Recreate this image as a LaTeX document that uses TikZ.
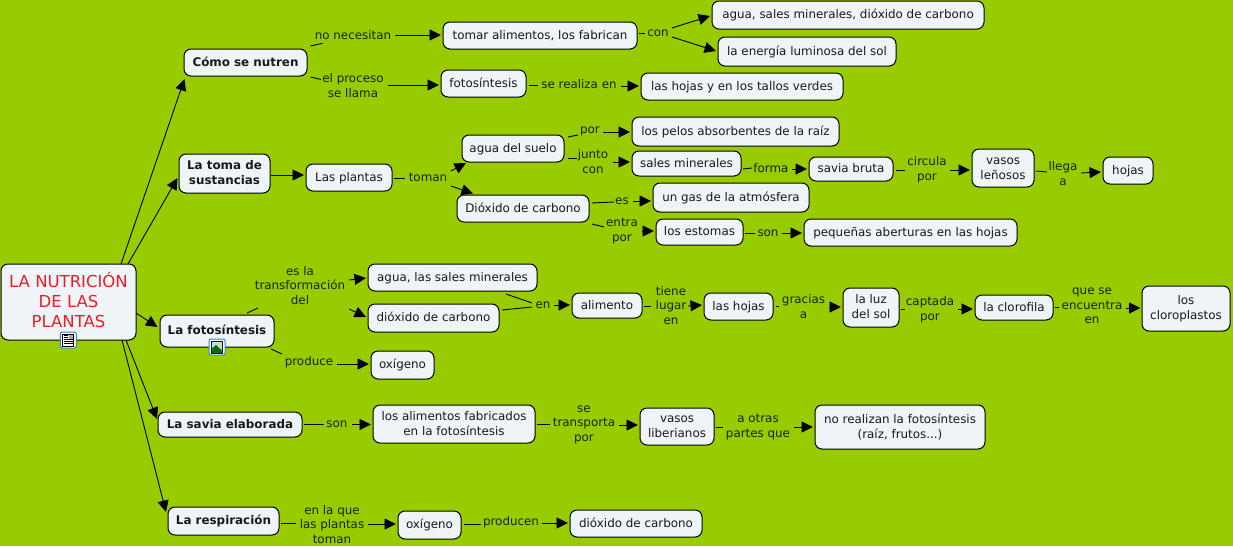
\documentclass[tikz,border=0pt]{standalone}
\usepackage{fontspec}
\setmainfont{DejaVu Sans}
\usetikzlibrary{arrows.meta}
\definecolor{bgc}{HTML}{99CC00}
\definecolor{boxc}{HTML}{EEF4F7}
\definecolor{labc}{HTML}{132600}
\definecolor{redc}{HTML}{EE1C25}
\definecolor{iconb}{HTML}{3C80D0}
\tikzset{
  concept/.style={draw=black,fill=boxc,line width=1pt,rounded corners=7pt,inner sep=0pt,text=black!90,
    font=\fontsize{11.9}{14.7}\selectfont},
  strong/.style={font=\fontsize{11.9}{14.7}\selectfont\bfseries},
  rootc/.style={text=redc,font=\fontsize{16.5}{19.6}\selectfont},
  linkword/.style={inner sep=0pt,text=labc,font=\fontsize{11.9}{14.7}\selectfont},
  stub/.style={draw=black,line width=0.9pt},
  arr/.style={draw=black,line width=0.9pt,-{Triangle[length=11.5pt,width=11pt]}}
}
\newcommand\cen[1]{\setbox\strutbox\hbox{\vrule height .7\baselineskip depth .3\baselineskip width 0pt}%
  \raisebox{-0.8pt}[\height][\depth]{\begin{tabular}{@{}c@{}}#1\end{tabular}}}
% box: name, x0, y0, x1, y1, options, text (pixel coordinates)
\newcommand\bx[7]{%
  \pgfmathsetmacro\tmpx{(#2+#4)/2}\pgfmathsetmacro\tmpy{(#3+#5)/2}%
  \expandafter\xdef\csname cx#1\endcsname{\tmpx}\expandafter\xdef\csname cy#1\endcsname{\tmpy}%
  \pgfmathsetmacro\tmpw{#4-#2}\pgfmathsetmacro\tmph{#5-#3}%
  \node[concept,#6,minimum width=\tmpw pt,minimum height=\tmph pt] (#1) at (\tmpx,\tmpy) {\cen{#7}};}
% label: name, cx, cy, text
\newcommand\lb[4]{%
  \expandafter\xdef\csname cx#1\endcsname{#2}\expandafter\xdef\csname cy#1\endcsname{#3}%
  \node[linkword] (#1) at (#2,#3) {\cen{#4}};}
% connector: style, node a, x, y, node b, x, y
\newcommand\lk[7]{%
  \draw[#1] ([shift={({#3-\csname cx#2\endcsname},{#4-\csname cy#2\endcsname})}]#2.center) --
            ([shift={({#6-\csname cx#5\endcsname},{#7-\csname cy#5\endcsname})}]#5.center);}
\begin{document}
\begin{tikzpicture}[x=1pt,y=-1pt]
\useasboundingbox (0,0) rectangle (1233,546);
\fill[bgc] (0,0) rectangle (1233,546);

\bx{root}{1}{264}{136}{340}{rootc}{LA NUTRICIÓN\\DE LAS\\PLANTAS}
\bx{como}{184}{49}{307}{76}{strong}{Cómo se nutren}
\bx{toma}{179}{154}{270}{193}{strong}{La toma de\\sustancias}
\bx{foto}{160}{315}{274}{347}{strong}{La fotosíntesis}
\bx{savia}{158}{412}{302}{437}{strong}{La savia elaborada}
\bx{resp}{168}{507}{279}{535}{strong}{La respiración}
\bx{tomar}{443}{22}{637}{49}{}{tomar alimentos, los fabrican}
\bx{asales}{712}{1}{984}{29}{}{agua, sales minerales, dióxido de carbono}
\bx{energia}{718}{37}{896}{66}{}{la energía luminosa del sol}
\bx{fotodos}{441}{70}{526}{97}{}{fotosíntesis}
\bx{htallos}{641}{73}{843}{100}{}{las hojas y en los tallos verdes}
\bx{plantas}{306}{164}{392}{191}{}{Las plantas}
\bx{asuelo}{462}{135}{564}{162}{}{agua del suelo}
\bx{diox}{457}{195}{589}{222}{}{Dióxido de carbono}
\bx{pelos}{632}{117}{839}{146}{}{los pelos absorbentes de la raíz}
\bx{sales}{632}{151}{741}{176}{}{sales minerales}
\bx{gas}{653}{183}{809}{212}{}{un gas de la atmósfera}
\bx{estomas}{656}{219}{743}{245}{}{los estomas}
\bx{peq}{804}{219}{1017}{246}{}{pequeñas aberturas en las hojas}
\bx{bruta}{809}{157}{893}{181}{}{savia bruta}
\bx{lenosos}{972}{149}{1034}{187}{}{vasos\\leñosos}
\bx{hojas}{1103}{157}{1153}{184}{}{hojas}
\bx{alsales}{368}{264}{537}{291}{}{agua, las sales minerales}
\bx{dioxdos}{368}{304}{499}{332}{}{dióxido de carbono}
\bx{oxi}{371}{351}{434}{379}{}{oxígeno}
\bx{alim}{572}{293}{642}{318}{}{alimento}
\bx{lashojas}{704}{293}{773}{320}{}{las hojas}
\bx{luz}{843}{288}{899}{327}{}{la luz\\del sol}
\bx{cloro}{975}{295}{1053}{320}{}{la clorofila}
\bx{plastos}{1142}{286}{1230}{331}{}{los\\cloroplastos}
\bx{fabric}{373}{405}{535}{443}{}{los alimentos fabricados\\en la fotosíntesis}
\bx{liber}{640}{408}{714}{445}{}{vasos\\liberianos}
\bx{norea}{815}{405}{985}{449}{}{no realizan la fotosíntesis\\(raíz, frutos...)}
\bx{oxidos}{398}{511}{461}{539}{}{oxígeno}
\bx{dioxtres}{570}{510}{702}{537}{}{dióxido de carbono}

\lb{lnec}{353}{35.5}{no necesitan}
\lb{lproc}{353}{86}{el proceso\\se llama}
\lb{lcon}{658}{33}{con}
\lb{lreal}{579}{85}{se realiza en}
\lb{ltoman}{428}{178}{toman}
\lb{lpor}{590}{130}{por}
\lb{ljunto}{593}{162}{junto\\con}
\lb{les}{622}{201}{es}
\lb{lentra}{622}{230}{entra\\por}
\lb{lforma}{771}{169}{forma}
\lb{lcirc}{927}{169}{circula\\por}
\lb{lllega}{1063}{174}{llega\\a}
\lb{lson}{768}{233}{son}
\lb{ltrans}{300}{286}{es la\\transformación\\del}
\lb{lprod}{309}{362}{produce}
\lb{len}{543}{305}{en}
\lb{ltiene}{671}{306}{tiene\\lugar\\en}
\lb{lgrac}{803.5}{307}{gracias\\a}
\lb{lcapt}{930}{309}{captada\\por}
\lb{lque}{1092}{305.5}{que se\\encuentra\\en}
\lb{lsons}{337}{424}{son}
\lb{ltrp}{584}{423}{se\\transporta\\por}
\lb{lotras}{758}{426}{a otras\\partes que}
\lb{lque2}{332}{525}{en la que\\las plantas\\toman}
\lb{lprodn}{511}{522}{producen}

% root
\lk{arr}{root}{121}{264}{como}{184.5}{79}
\lk{arr}{root}{128}{264}{toma}{177.5}{178}
\lk{arr}{root}{136}{313}{foto}{157.5}{327}
\lk{arr}{root}{126}{340}{savia}{157}{419}
\lk{arr}{root}{122}{340}{resp}{166}{512}
\lk{arr}{toma}{271}{175}{plantas}{304}{175}
% como
\lk{stub}{como}{310.5}{46}{lnec}{322.5}{43.3}
\lk{arr}{lnec}{395}{35}{tomar}{441}{35}
\lk{stub}{como}{310.5}{77}{lproc}{321}{79.5}
\lk{arr}{lproc}{388}{85}{fotodos}{439}{85}
\lk{stub}{tomar}{639}{33}{lcon}{645}{33}
\lk{arr}{lcon}{672}{28}{asales}{710}{16}
\lk{arr}{lcon}{672}{37}{energia}{716}{51}
\lk{stub}{fotodos}{529}{85}{lreal}{538}{85}
\lk{arr}{lreal}{621}{86}{htallos}{639}{86}
% toma
\lk{stub}{plantas}{394}{178}{ltoman}{405}{178}
\lk{arr}{ltoman}{451}{171}{asuelo}{466}{163}
\lk{arr}{ltoman}{451}{186}{diox}{473}{193.5}
\lk{stub}{asuelo}{568}{137}{lpor}{578}{135}
\lk{arr}{lpor}{603}{132}{pelos}{630}{132}
\lk{stub}{asuelo}{568}{158}{ljunto}{577}{158}
\lk{arr}{ljunto}{613}{162}{sales}{630}{162}
\lk{stub}{diox}{592}{203}{les}{614}{202}
\lk{arr}{les}{633}{201}{gas}{651}{201}
\lk{stub}{diox}{592}{224}{lentra}{604}{227}
\lk{arr}{lentra}{642}{231}{estomas}{654}{231}
\lk{stub}{sales}{743}{169}{lforma}{752}{168}
\lk{arr}{lforma}{792}{169}{bruta}{807}{169}
\lk{stub}{bruta}{896}{170}{lcirc}{905}{170}
\lk{arr}{lcirc}{950}{170}{lenosos}{970}{170}
\lk{stub}{lenosos}{1036}{171}{lllega}{1047}{172}
\lk{arr}{lllega}{1081}{173}{hojas}{1101}{172}
\lk{stub}{estomas}{745}{233}{lson}{755}{233}
\lk{arr}{lson}{782}{233}{peq}{802}{233}
% fotosintesis
\lk{stub}{foto}{247}{313}{ltrans}{258}{308}
\lk{arr}{ltrans}{349}{280}{alsales}{366}{278}
\lk{arr}{ltrans}{349}{309}{dioxdos}{366}{317}
\lk{stub}{foto}{271}{349}{lprod}{282}{354}
\lk{arr}{lprod}{337}{364}{oxi}{369}{364}
\lk{stub}{alsales}{506}{294}{len}{532}{303}
\lk{stub}{dioxdos}{502}{310}{len}{532}{307}
\lk{arr}{len}{554}{305}{alim}{570}{305}
\lk{stub}{alim}{644}{306}{ltiene}{651}{306}
\lk{arr}{ltiene}{688}{306}{lashojas}{702}{305}
\lk{stub}{lashojas}{775.5}{306.5}{lgrac}{779}{306.5}
\lk{arr}{lgrac}{828.5}{307}{luz}{841}{307}
\lk{stub}{luz}{901}{309}{lcapt}{904.5}{309}
\lk{arr}{lcapt}{957.5}{309}{cloro}{973}{309}
\lk{stub}{cloro}{1055}{307}{lque}{1059}{307}
\lk{arr}{lque}{1126}{308}{plastos}{1140.5}{308}
% savia
\lk{stub}{savia}{304}{424.5}{lsons}{324}{424.5}
\lk{arr}{lsons}{352}{424.5}{fabric}{371}{424.5}
\lk{stub}{fabric}{537}{424}{ltrp}{550}{424}
\lk{arr}{ltrp}{619}{425}{liber}{638}{425}
\lk{stub}{liber}{716}{427}{lotras}{723}{427}
\lk{arr}{lotras}{794}{427}{norea}{813}{427}
% respiracion
\lk{stub}{resp}{281}{523}{lque2}{296}{523}
\lk{arr}{lque2}{368}{524}{oxidos}{396}{524}
\lk{stub}{oxidos}{464}{524}{lprodn}{481}{524}
\lk{arr}{lprodn}{542}{523}{dioxtres}{568}{523}

% document icon on the root concept
\begin{scope}[shift={(68.3,340)}]
  \fill[white,draw=iconb,line width=1pt,rounded corners=2pt] (-8,-8) rectangle (8,8);
  \draw[black,fill=white,line width=0.7pt] (-5.5,-6) rectangle (5.5,6);
  \fill[gray!70] (0.5,-5) rectangle (4.5,-1);
  \draw[black,line width=0.6pt] (-4.5,-4.5) -- (-0.5,-4.5) (-4.5,-2.5) -- (-0.5,-2.5) (-4.5,-0.5) -- (4.5,-0.5) (-4.5,1.5) -- (4.5,1.5) (-4.5,3.5) -- (4.5,3.5);
\end{scope}
% picture icon on La fotosintesis
\begin{scope}[shift={(217,347)}]
  \fill[white,draw=iconb,line width=1pt,rounded corners=2pt] (-8,-8) rectangle (8,8);
  \fill[white!70!iconb] (-5.5,-6) rectangle (5.5,6);
  \fill[green!45!black] (-5.5,6) -- (-5.5,2) -- (-1,-2) -- (5.5,4) -- (5.5,6) -- cycle;
  \fill[yellow!90!orange] (2.5,-3) circle (1.6);
  \draw[black!80!iconb,line width=0.7pt] (-5.5,-6) rectangle (5.5,6);
\end{scope}
\end{tikzpicture}
\end{document}
